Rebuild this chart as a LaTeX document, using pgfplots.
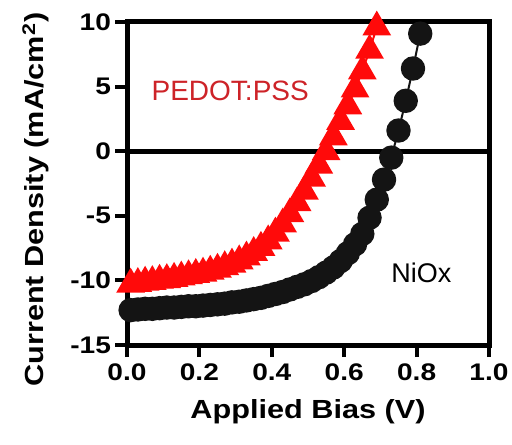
\documentclass[border=0pt]{standalone}
\usepackage{fontspec}
\setmainfont{Liberation Sans}
\newfontfamily\boldstretch{Liberation Sans}[FakeStretch=1.17]
\usepackage{pgfplots}
\pgfplotsset{compat=1.18}
\definecolor{pedotred}{RGB}{255,10,10}
\definecolor{pedottext}{RGB}{205,35,40}
\definecolor{nioxblack}{RGB}{20,20,20}

\pgfplotstableread{
x y
0.01 -12.30
0.03 -12.25
0.05 -12.20
0.07 -12.20
0.09 -12.15
0.11 -12.10
0.13 -12.10
0.15 -12.05
0.17 -12.00
0.19 -12.00
0.21 -11.95
0.23 -11.90
0.25 -11.85
0.27 -11.80
0.29 -11.70
0.31 -11.65
0.33 -11.55
0.35 -11.45
0.37 -11.35
0.39 -11.20
0.41 -11.05
0.43 -10.90
0.45 -10.70
0.47 -10.50
0.49 -10.30
0.51 -10.05
0.53 -9.75
0.55 -9.40
0.57 -9.00
0.59 -8.50
0.61 -7.90
0.63 -7.20
0.65 -6.40
0.67 -5.15
0.69 -3.75
0.71 -2.20
0.73 -0.50
0.75 1.60
0.77 3.90
0.79 6.40
0.81 9.10
}\niox

\pgfplotstableread{
x y
0.01 -10.30
0.03 -10.25
0.05 -10.15
0.07 -10.10
0.09 -10.00
0.11 -9.95
0.13 -9.85
0.15 -9.75
0.17 -9.65
0.19 -9.55
0.21 -9.45
0.23 -9.30
0.25 -9.15
0.27 -8.95
0.29 -8.75
0.31 -8.50
0.33 -8.20
0.35 -7.85
0.37 -7.45
0.39 -6.95
0.41 -6.35
0.43 -5.65
0.45 -4.85
0.47 -4.00
0.49 -3.10
0.51 -2.10
0.53 -1.10
0.55 -0.05
0.57 1.10
0.59 2.30
0.61 3.50
0.63 4.80
0.65 6.20
0.67 7.80
0.69 9.60
}\pedot

\begin{document}
\begin{tikzpicture}
\useasboundingbox (0,0) rectangle (256pt,222pt);
\begin{axis}[
  at={(63.5pt,49.5pt)}, anchor=south west,
  scale only axis, width=181pt, height=161.5pt,
  xmin=0, xmax=1, ymin=-15, ymax=10,
  xtick={0,0.2,0.4,0.6,0.8,1.0},
  xticklabels={0.0,0.2,0.4,0.6,0.8,1.0},
  ytick={-15,-10,-5,0,5,10},
  yticklabels={-15,-10,-5,0,5,10},
  xtick pos=bottom, ytick pos=left,
  tick align=outside,
  major tick length=6pt,
  tick style={line width=2pt, black},
  axis line style={line width=2.5pt},
  ticklabel style={font=\boldstretch\bfseries\fontsize{12}{14}\selectfont},
  yticklabel style={xshift=1.5pt},
  xlabel={Applied Bias (V)},
  ylabel={Current Density (mA/cm\textsuperscript{2})},
  label style={font=\boldstretch\bfseries\fontsize{13.1}{15}\selectfont},
  xlabel style={at={(axis description cs:0.5,-0.207)}, anchor=center},
  ylabel style={at={(axis description cs:-0.252,0.45)}, anchor=center},
  clip=false,
]
\addplot[line width=2.5pt, black, forget plot] coordinates {(0,0) (1,0)};
\addplot[nioxblack, line width=1pt, mark=*, mark size=5.6pt,
  mark options={fill=nioxblack, draw=nioxblack}] table[x=x,y=y] {\niox};
\addplot[pedotred, line width=1pt, mark=triangle*, mark size=7.3pt,
  mark options={fill=pedotred, draw=pedotred}] table[x=x,y=y] {\pedot};
\node[text=pedottext, font=\fontsize{14}{16}\selectfont] at (axis cs:0.285,4.65) {PEDOT:PSS};
\node[text=black, font=\fontsize{13.5}{16}\selectfont] at (axis cs:0.813,-9.45) {NiOx};
\end{axis}
\end{tikzpicture}
\end{document}
